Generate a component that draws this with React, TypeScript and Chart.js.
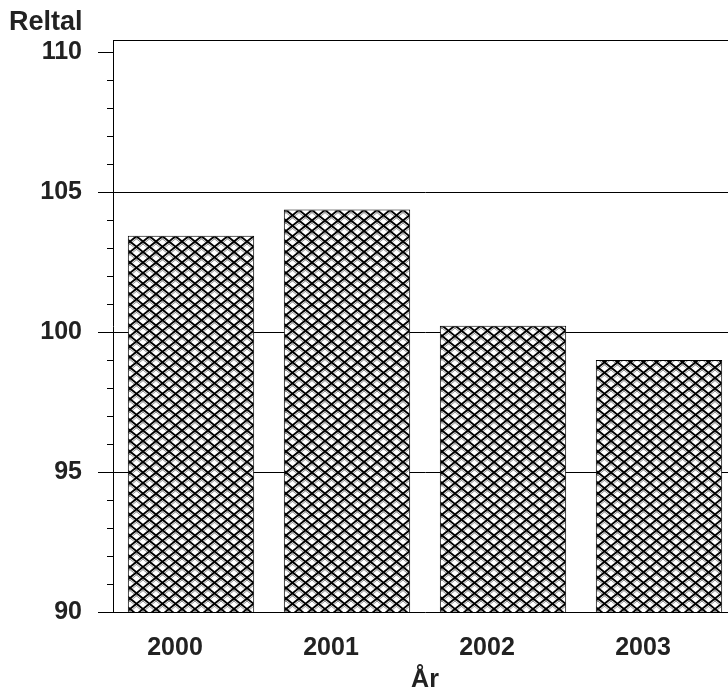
import React, { useEffect, useRef } from 'react';
import { Chart, registerables } from 'chart.js';

Chart.register(...registerables);

const categories = ['2000', '2001', '2002', '2003'];
const values = [103.44, 104.38, 100.22, 99.0];
const majorTicks = [90, 95, 100, 105, 110];
const minorTicks = [91, 92, 93, 94, 96, 97, 98, 99, 101, 102, 103, 104, 106, 107, 108, 109];
const gridValues = [95, 100, 105];
const yTitle = 'Reltal';
const xTitle = 'År';

const FONT = '"Liberation Sans", Arial, Helvetica, sans-serif';
const TEXT = '#222';

function makePattern(ctx: CanvasRenderingContext2D) {
  const w = 26, h = 21;
  const c = document.createElement('canvas');
  c.width = w; c.height = h;
  const g = c.getContext('2d')!;
  g.fillStyle = '#fff';
  g.fillRect(0, 0, w, h);
  const drawSet = (dy: number, color: string, lw: number) => {
    g.strokeStyle = color;
    g.lineWidth = lw;
    for (let k = -6; k <= 6; k++) {
      const x0 = k * 13;
      g.beginPath();
      g.moveTo(x0 - w, -h + dy);
      g.lineTo(x0 + 2 * w, 2 * h + dy);
      g.stroke();
      g.beginPath();
      g.moveTo(x0 - w, 2 * h + dy);
      g.lineTo(x0 + 2 * w, -h + dy);
      g.stroke();
    }
  };
  drawSet(2.6, '#777', 0.8);
  drawSet(0, '#000', 1.8);
  return ctx.createPattern(c, 'repeat')!;
}

const decor = {
  id: 'decor',
  afterDraw(chart: any) {
    const { ctx, chartArea, scales } = chart;
    const y = scales.y;
    ctx.save();
    ctx.strokeStyle = '#000';
    ctx.lineWidth = 1;
    minorTicks.forEach((v) => {
      const py = Math.round(y.getPixelForValue(v)) + 0.5;
      ctx.beginPath();
      ctx.moveTo(chartArea.left - 6, py);
      ctx.lineTo(chartArea.left, py);
      ctx.stroke();
    });
    ctx.beginPath();
    ctx.moveTo(chartArea.left, Math.round(chartArea.top) + 0.5);
    ctx.lineTo(chartArea.right, Math.round(chartArea.top) + 0.5);
    ctx.stroke();
    ctx.font = `bold 27px ${FONT}`;
    ctx.fillStyle = TEXT;
    ctx.textBaseline = 'alphabetic';
    ctx.textAlign = 'left';
    ctx.fillText(yTitle, 9, 30);
    ctx.restore();
  },
};

export default function App() {
  const ref = useRef<HTMLCanvasElement>(null);
  useEffect(() => {
    document.body.style.margin = '0';
    document.body.style.overflow = 'hidden';
    const canvas = ref.current!;
    const ctx = canvas.getContext('2d')!;
    const pattern = makePattern(ctx);
    const chart = new Chart(canvas, {
      type: 'bar',
      data: {
        labels: categories,
        datasets: [
          {
            data: values,
            backgroundColor: pattern as any,
            borderColor: '#000',
            borderWidth: 1,
            barPercentage: 0.81,
            categoryPercentage: 1,
          },
        ],
      },
      options: {
        responsive: false,
        animation: false,
        layout: { padding: { top: 40, left: 0, right: 0, bottom: 0 } },
        plugins: { legend: { display: false }, tooltip: { enabled: false }, title: { display: false } },
        scales: {
          x: {
            grid: { display: false, drawTicks: false },
            border: { display: true, color: '#000', width: 1 },
            ticks: { color: TEXT, font: { family: FONT, size: 25, weight: 'bold' }, padding: 21, labelOffset: -16 },
            title: {
              display: true,
              text: xTitle,
              color: TEXT,
              font: { family: FONT, size: 25, weight: 'bold', lineHeight: 1.2 },
              padding: { top: 0, bottom: 0 },
            },
            afterFit: (s: any) => { s.height = 83; },
          },
          y: {
            min: 90,
            max: 110.43,
            afterBuildTicks: (s: any) => { s.ticks = majorTicks.map((v) => ({ value: v })); },
            afterFit: (s: any) => { s.width = 113; },
            grid: {
              color: (c: any) => (c.tick && gridValues.includes(c.tick.value) ? '#000' : 'rgba(0,0,0,0)'),
              tickColor: '#000',
              tickLength: 15,
              lineWidth: 1,
            },
            border: { display: true, color: '#000', width: 1 },
            ticks: { color: TEXT, font: { family: FONT, size: 25, weight: 'bold' }, padding: 16 },
          },
        },
      },
      plugins: [decor],
    });
    return () => chart.destroy();
  }, []);
  return (
    <div style={{ width: 728, height: 691, overflow: 'hidden', position: 'relative' }}>
      <canvas ref={ref} width={737} height={695} style={{ display: 'block' }} />
    </div>
  );
}
